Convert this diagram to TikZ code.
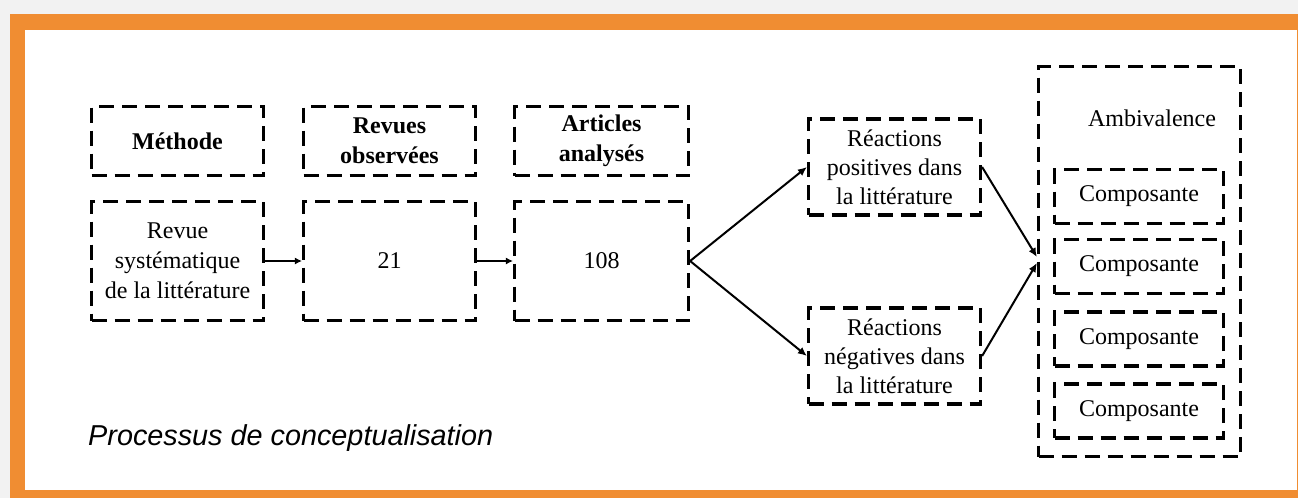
\documentclass[tikz,border=0pt]{standalone}
\usepackage{fontspec}
\setmainfont{Liberation Serif}
\newfontfamily\capfont{Liberation Sans}
\usetikzlibrary{arrows.meta,calc}
\definecolor{frameorange}{HTML}{F08D32}
\definecolor{bggray}{HTML}{F2F2F2}
\begin{document}
\begin{tikzpicture}[x=1pt,y=-1pt,
  dbox/.style={draw=black,line width=3.2pt,dash pattern=on 15pt off 8pt,
    rectangle,inner sep=0pt,align=center,font=\fontsize{24}{30}\selectfont},
  hdr/.style={dbox,minimum width=172pt,minimum height=69pt,font=\bfseries\fontsize{24}{30}\selectfont},
  body/.style={dbox,minimum width=172pt,minimum height=119pt},
  rbox/.style={dbox,minimum width=172pt,minimum height=96pt,font=\fontsize{24}{29}\selectfont},
  cbox/.style={dbox,minimum width=169pt,minimum height=54pt},
  thinarrow/.style={line width=1.2pt,-{Latex[length=7pt,width=7pt]}},
  diagarrow/.style={line width=2pt,-{Latex[length=9pt,width=8pt]}}
]
\useasboundingbox (0,0) rectangle (1298,498);
\fill[bggray] (0,0) rectangle (1298,498);
\fill[frameorange] (10,14) rectangle (1298,498);
\fill[white] (25,30) rectangle (1297,490);

\node[hdr] (meth) at (177.5,141) {Méthode};
\node[body] (revue) at (177.5,261) {Revue\\systématique\\de la littérature};
\node[hdr] (revh) at (389.5,141) {Revues\\observées};
\node[body] (n21) at (389.5,261) {21};
\node[hdr,minimum width=174pt] (arth) at (601.5,141) {Articles\\analysés};
\node[body,minimum width=174pt] (n108) at (601.5,261) {108};

\node[rbox] (pos) at (894.5,167) {Réactions\\positives dans\\la littérature};
\node[rbox] (neg) at (894.5,356) {Réactions\\négatives dans\\la littérature};

\node[dbox,minimum width=202pt,minimum height=390pt] (amb) at (1139.5,261.5) {};
\node[font=\fontsize{24}{29}\selectfont] (ambt) at (1152,118) {Ambivalence};
\node[cbox] (c1) at (1139,196.5) {Composante};
\node[cbox] (c2) at (1139,266.5) {Composante};
\node[cbox] (c3) at (1139,339) {Composante};
\node[cbox] (c4) at (1139,411) {Composante};

\coordinate (ambin1) at ($(amb.west)+(0,-4.5)$);
\coordinate (ambin2) at ($(amb.west)+(0,1.5)$);

\draw[thinarrow] (revue.east) -- (n21.west);
\draw[thinarrow] (n21.east) -- (n108.west);
\draw[diagarrow] (n108.east) -- (pos.west);
\draw[diagarrow] (n108.east) -- (neg.west);
\draw[diagarrow] (pos.east) -- (ambin1);
\draw[diagarrow] (neg.east) -- (ambin2);

\node[anchor=base west,inner sep=0pt,font=\capfont\itshape\fontsize{28.8}{34}\selectfont] (cap) at (88,445) {Processus de conceptualisation};
\end{tikzpicture}
\end{document}
